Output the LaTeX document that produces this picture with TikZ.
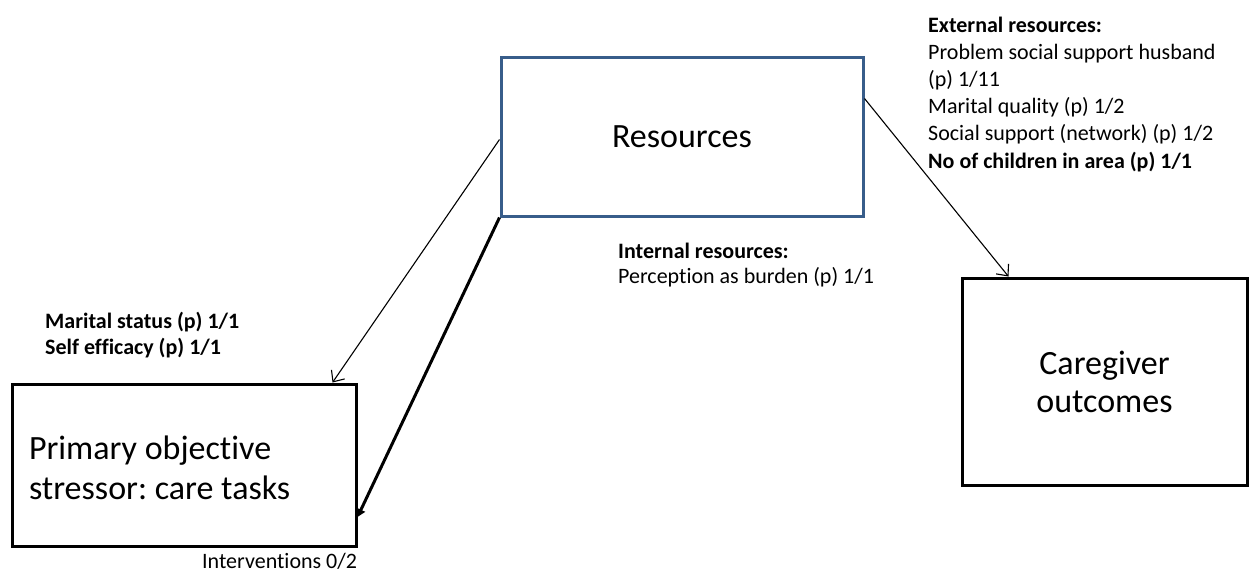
\documentclass[tikz,border=0pt]{standalone}
\usepackage{fontspec}
\setmainfont{Carlito}[Ligatures=NoCommon]
\usetikzlibrary{arrows.meta}
\definecolor{boxblue}{HTML}{385D8A}
\begin{document}
\frenchspacing
\begin{tikzpicture}[x=1pt,y=-1pt,
  box/.style={draw,line width=3pt,inner sep=0pt,font=\fontsize{34}{38}\selectfont},
  note/.style={anchor=base west,inner sep=0pt,align=left},
  thin/.style={line width=1.1pt,-{Straight Barb[length=9pt,width=16pt,line width=1.1pt]}},
  heavy/.style={line width=3pt,-{Triangle[length=8pt,width=9pt]}}]
\useasboundingbox (0,0) rectangle (1250,574);
% boxes
\node[box,draw=boxblue,minimum width=362pt,minimum height=159pt] (res) at (682,136.5) {Resources};
\node[box,minimum width=344pt,minimum height=162pt,align=flush left,text width=310pt,
  font=\fontsize{34}{40}\selectfont] (prim) at (184,465)
  {\raisebox{0pt}[30pt]{}Primary objective\\stressor: care tasks};
\node[box,minimum width=285pt,minimum height=207pt,align=center] (out) at (1104.5,381.5)
  {Caregiver\\outcomes};
% connectors
\draw[thin] ([yshift=-3pt]res.west) -- ([xshift=-25pt]prim.north east);
\draw[heavy] (res.south west) -- ([yshift=-52pt]prim.east);
\draw[thin] ([yshift=38pt]res.east) -- ([xshift=48pt]out.north west);
% labels
\node[note,font=\fontsize{22}{27.2}\selectfont] (ext) at (928,168)
  {\textbf{External resources:}\\Problem social support husband\\(p) 1/11\\Marital quality (p) 1/2\\Social support (network) (p) 1/2\\\textbf{No of children in area (p) 1/1}};
\node[note,font=\fontsize{22}{25}\selectfont] (int) at (618,283)
  {\textbf{Internal resources:}\\Perception as burden (p) 1/1};
\node[note,font=\fontsize{22}{26}\selectfont\bfseries] (mar) at (45,354)
  {Marital status (p) 1/1\\Self efficacy (p) 1/1};
\node[note,font=\fontsize{22}{26}\selectfont] (intv) at (202,568) {Interventions 0/2};
\end{tikzpicture}
\end{document}
